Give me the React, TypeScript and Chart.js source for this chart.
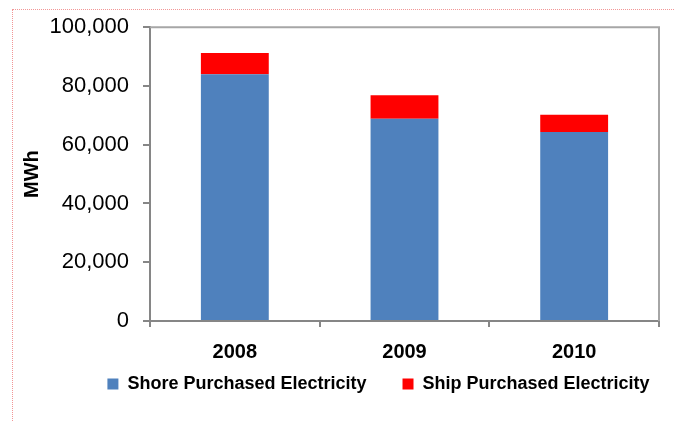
import React, { useEffect, useRef } from 'react';
import { Chart, registerables } from 'chart.js';

Chart.register(...registerables);

const categories = ['2008', '2009', '2010'];
const shoreValues = [84000, 68800, 64300];
const shipValues = [7200, 8000, 5900];
const seriesNames = ['Shore Purchased Electricity', 'Ship Purchased Electricity'];
const seriesColors = ['#4F81BD', '#FF0000'];
const yMin = 0;
const yMax = 100000;
const yStep = 20000;
const yTitle = 'MWh';

const FONT = "'Liberation Sans', Arial, sans-serif";
const NARROW = "'Liberation Sans Narrow', 'Liberation Sans', Arial, sans-serif";

const framePlugin = {
  id: 'frame',
  afterDraw(chart: any) {
    const { ctx, chartArea } = chart;
    const { left, top, right, bottom } = chartArea;
    ctx.save();
    ctx.strokeStyle = '#a6a6a6';
    ctx.lineWidth = 2;
    ctx.beginPath();
    ctx.moveTo(left, top);
    ctx.lineTo(right, top);
    ctx.lineTo(right, bottom);
    ctx.stroke();
    ctx.restore();
  },
};

const LEGEND_SHIFT_X = 49;
const LEGEND_SHIFT_Y = -26;
const legendShiftPlugin = {
  id: 'legendShift',
  afterLayout(chart: any) {
    const l = chart.legend;
    if (l) {
      l.left += LEGEND_SHIFT_X;
      l.right += LEGEND_SHIFT_X;
      l.top += LEGEND_SHIFT_Y;
      l.bottom += LEGEND_SHIFT_Y;
    }
  },
};

export default function App() {
  const ref = useRef<HTMLCanvasElement | null>(null);

  useEffect(() => {
    if (!ref.current) return;
    const chart = new Chart(ref.current, {
      type: 'bar',
      data: {
        labels: categories,
        datasets: [
          {
            label: seriesNames[0],
            data: shoreValues,
            backgroundColor: seriesColors[0],
            barPercentage: 0.4,
            categoryPercentage: 1,
          },
          {
            label: seriesNames[1],
            data: shipValues,
            backgroundColor: seriesColors[1],
            barPercentage: 0.4,
            categoryPercentage: 1,
          },
        ],
      },
      options: {
        animation: false,
        responsive: false,
        maintainAspectRatio: false,
        layout: { padding: { left: 0, top: 25, right: 15, bottom: -8 } },
        plugins: {
          tooltip: { enabled: false },
          title: { display: false },
          legend: {
            display: true,
            position: 'bottom',
            labels: {
              boxWidth: 11,
              boxHeight: 11,
              padding: 36,
              color: '#000',
              font: { family: NARROW, size: 18, weight: 'bold' },
            },
          },
        },
        scales: {
          x: {
            stacked: true,
            afterFit: (s: any) => {
              s.height = 44;
            },
            border: { color: '#868686', width: 2 },
            grid: {
              offset: true,
              drawOnChartArea: false,
              drawTicks: true,
              tickLength: 6,
              color: '#868686',
              lineWidth: 2,
            },
            ticks: {
              color: '#000',
              padding: 13,
              font: { family: NARROW, size: 20, weight: 'bold' },
            },
          },
          y: {
            stacked: true,
            min: yMin,
            max: yMax,
            afterFit: (s: any) => {
              s.width = 150;
            },
            border: { color: '#868686', width: 2 },
            grid: {
              drawOnChartArea: false,
              drawTicks: true,
              tickLength: 7,
              color: '#868686',
              lineWidth: 2,
            },
            ticks: {
              stepSize: yStep,
              color: '#000',
              padding: 14,
              font: { family: FONT, size: 22 },
              callback: (v: any) => Number(v).toLocaleString('en-US'),
            },
            title: {
              display: true,
              text: yTitle,
              color: '#000',
              padding: { top: 20, bottom: 0 },
              font: { family: FONT, size: 20, weight: 'bold' },
            },
          },
        },
      },
      plugins: [framePlugin, legendShiftPlugin],
    });
    return () => chart.destroy();
  }, []);

  return (
    <div
      style={{
        position: 'fixed',
        left: 0,
        top: 0,
        width: 674,
        height: 421,
        overflow: 'hidden',
        background: '#fff',
      }}
    >
      <canvas ref={ref} width={674} height={421} style={{ position: 'absolute', left: 0, top: 0 }} />
      <div
        style={{
          position: 'absolute',
          left: 12,
          top: 9,
          width: 800,
          height: 600,
          border: '1px dotted rgb(242,150,150)',
          pointerEvents: 'none',
        }}
      />
    </div>
  );
}
